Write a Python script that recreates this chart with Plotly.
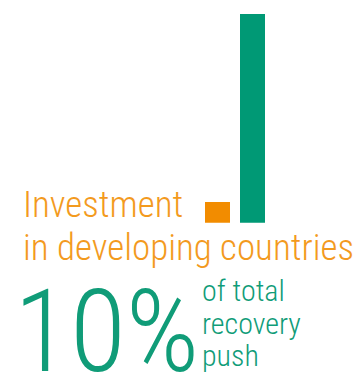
import plotly.graph_objects as go

# Recovery spending: investment in developing countries vs. the total push
categories = ["Developing countries", "Total recovery push"]
share_pct = [10, 100]
bar_colors = ["#F28C00", "#009975"]

W, H = 355, 376
ORANGE = "#F39A1E"
GREEN = "#109C78"
FONT = "Roboto Condensed, Liberation Sans Narrow, sans-serif"

fig = go.Figure(
    go.Bar(
        x=categories,
        y=share_pct,
        marker=dict(color=bar_colors, line=dict(width=0)),
        width=0.72,
        hoverinfo="skip",
    )
)


def px_x(p):
    return p / W


def px_y(p):
    return 1 - p / H


def line_of_text(text, left, baseline, size, color):
    # place a single text line so its baseline sits at the given pixel row
    bottom = baseline + 0.244 * size
    return dict(
        text=text,
        x=px_x(left),
        y=px_y(bottom),
        xref="paper",
        yref="paper",
        xanchor="left",
        yanchor="bottom",
        showarrow=False,
        font=dict(family=FONT, size=size, color=color, weight=300),
        borderpad=0,
    )


annotations = [
    line_of_text("Investment", 22, 218, 37, ORANGE),
    line_of_text("in developing countries", 22, 261, 37, ORANGE),
    line_of_text(f"{share_pct[0]}%", 13, 372, 115, GREEN),
    line_of_text("of total", 201, 302, 30, GREEN),
    line_of_text("recovery", 201, 335, 30, GREEN),
    line_of_text("push", 201, 367, 30, GREEN),
]

fig.update_layout(
    width=W,
    height=H,
    margin=dict(l=0, r=0, t=0, b=0),
    paper_bgcolor="white",
    plot_bgcolor="white",
    showlegend=False,
    bargap=0,
    annotations=annotations,
    xaxis=dict(
        domain=[px_x(200), px_x(270)],
        range=[-0.5, 1.5],
        visible=False,
        fixedrange=True,
    ),
    yaxis=dict(
        domain=[px_y(222.7), px_y(14)],
        range=[0, 100],
        visible=False,
        fixedrange=True,
    ),
)

fig.write_html("out.html", config={"displayModeBar": False})
